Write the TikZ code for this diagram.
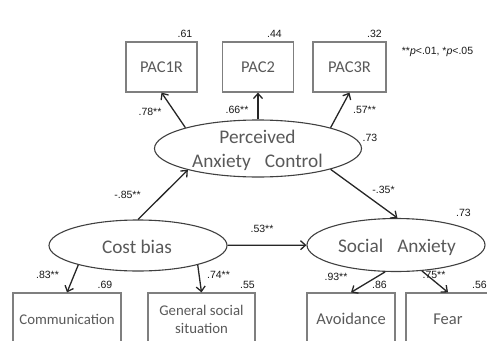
\documentclass[tikz,border=0pt]{standalone}
\usepackage{fontspec}
\newfontfamily\carl{Carlito}
\newfontfamily\arl{Liberation Sans}
\usetikzlibrary{shapes.geometric,arrows.meta}
\definecolor{boxline}{HTML}{7F7F7F}
\definecolor{txtgray}{HTML}{595959}
\definecolor{ellline}{HTML}{404040}
\definecolor{arrcol}{HTML}{262626}
\begin{document}
\begin{tikzpicture}[x=1pt,y=-1pt,
 obs/.style={draw=boxline,line width=1.2pt,rectangle,inner sep=0pt,align=center,
   font=\carl\fontsize{16.5}{18}\selectfont,text=txtgray},
 obssmall/.style={obs,font=\carl\fontsize{14.8}{18}\selectfont},
 lat/.style={draw=ellline,line width=1.1pt,ellipse,inner sep=0pt},
 lattext/.style={inner sep=0pt,align=center,font=\carl\fontsize{19.3}{24}\selectfont,text=txtgray},
 arr/.style={draw=arrcol,line width=1.3pt,-{Straight Barb[length=5pt,width=9pt]}},
 coef/.style={font=\arl\fontsize{10.5}{12}\selectfont,text=black!90,inner sep=0pt}
]
\useasboundingbox (0,0) rectangle (487,340);
\clip (0,0) rectangle (487,340);

% observed indicators (top)
\node[obs,minimum width=71pt,minimum height=50pt] (pac1) at (161.5,67) {PAC1R};
\node[obs,minimum width=71pt,minimum height=50pt] (pac2) at (258,67) {PAC2};
\node[obs,minimum width=73pt,minimum height=50pt] (pac3) at (349.5,67) {PAC3R};

% latent variables
\node[lat,minimum width=207pt,minimum height=57pt] (pac) at (258,148.5) {};
\node[lattext] (pactxt) at (257.5,150) {Perceived\\Anxiety\hspace{14pt}Control};
\node[lat,minimum width=178pt,minimum height=51pt] (cost) at (138,245.5) {};
\node[lattext] (costtxt) at (137,247) {Cost bias};
\node[lat,minimum width=178pt,minimum height=53pt] (sa) at (396,245) {};
\node[lattext] (satxt) at (397,247) {Social\hspace{14pt}Anxiety};

% observed indicators (bottom)
\node[obssmall,minimum width=108pt,minimum height=52pt] (comm) at (67,319) {Communication};
\node[obssmall,minimum width=107pt,minimum height=52pt] (gen) at (201.5,319) {General social\\situation};
\node[obs,minimum width=88pt,minimum height=52pt] (avoid) at (351,319) {Avoidance};
\node[obs,minimum width=84pt,minimum height=52pt] (fear) at (448,319) {Fear};

% paths
\draw[arr] (pac.164) -- (pac1.south);
\draw[arr] (pac.north) -- (pac2.south);
\draw[arr] (pac.16) -- (pac3.south);
\draw[arr] (cost.north) -- (pac.197);
\draw[arr] (pac.344) -- (sa.87);
\draw[arr] (cost) -- (sa);
\draw[arr] (cost.198) -- (comm.north);
\draw[arr] (cost.342) -- (gen.north);
\draw[arr] (sa.248) -- (avoid.north);
\draw[arr] (sa.315) -- (fear.north);

% coefficients
\node[coef] (r61) at (185,34) {.61};
\node[coef] (r44) at (274.5,34) {.44};
\node[coef] (r32) at (374.5,34) {.32};
\node[coef] (legend) at (437.5,52) {**\textit{p}<.01, *\textit{p}<.05};
\node[coef] (c78) at (150,112) {.78**};
\node[coef] (c66) at (237,110) {.66**};
\node[coef] (c57) at (364.5,110) {.57**};
\node[coef] (r73a) at (370,138) {.73};
\node[coef] (c85) at (127.5,195) {-.85**};
\node[coef] (c35) at (383.5,190) {-.35*};
\node[coef] (c53) at (262,229) {.53**};
\node[coef] (r73b) at (463.5,213) {.73};
\node[coef] (c83) at (47.5,275) {.83**};
\node[coef] (c74) at (218.5,275) {.74**};
\node[coef] (r69) at (105,285) {.69};
\node[coef] (r55) at (247.5,285) {.55};
\node[coef] (c93) at (336,277) {.93**};
\node[coef] (r86) at (379.5,285) {.86};
\node[coef] (c75) at (434,275) {.75**};
\node[coef] (r56) at (479.5,285) {.56};
\end{tikzpicture}
\end{document}
